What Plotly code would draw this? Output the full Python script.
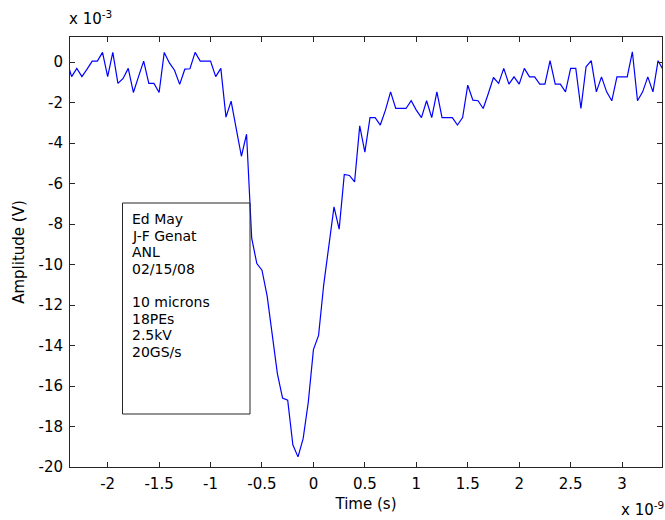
import plotly.graph_objects as go

# Oscilloscope trace: 20 GS/s sampling (0.05 ns per sample), amplitude in mV
T_START_NS = -2.40
DT_NS = 0.05
amplitude_mv = [
    0.10, -0.72, -0.31, -0.72, -0.35, 0.05, 0.05, 0.48, -0.72, 0.48,
    -1.05, -0.81, -0.31, -1.50, -0.72, 0.05, -1.05, -1.05, -1.50, 0.48,
    -0.04, -0.40, -1.10, -0.35, -0.33, 0.48, 0.05, 0.05, 0.05, -0.72,
    -0.31, -2.72, -1.93, -3.30, -4.65, -3.56, -8.70, -9.95, -10.28, -11.55,
    -13.40, -15.40, -16.60, -16.70, -18.90, -19.50, -18.60, -16.80, -14.20, -13.50,
    -11.00, -9.13, -7.15, -8.25, -5.55, -5.60, -5.92, -3.15, -4.45, -2.74,
    -2.74, -3.11, -2.37, -1.47, -2.29, -2.29, -2.29, -1.91, -2.37, -2.74,
    -1.91, -2.74, -1.47, -2.74, -2.74, -2.74, -3.11, -2.74, -1.14, -1.88,
    -1.91, -2.29, -1.55, -0.76, -1.05, -0.31, -1.09, -0.73, -1.09, -0.31,
    -0.73, -0.73, -1.09, -1.09, 0.07, -1.09, -1.09, -1.47, -0.31, -0.31,
    -2.29, -0.23, 0.07, -1.47, -0.73, -1.47, -1.91, -0.73, -0.73, -0.73,
    0.51, -1.91, -1.47, -0.73, -1.47, 0.07, -0.39,
]
time_ns = [round(T_START_NS + i * DT_NS, 3) for i in range(len(amplitude_mv))]

x_ticks = [-2, -1.5, -1, -0.5, 0, 0.5, 1, 1.5, 2, 2.5, 3]
x_tick_text = ["-2", "-1.5", "-1", "-0.5", "0", "0.5", "1", "1.5", "2", "2.5", "3"]
y_ticks = [0, -2, -4, -6, -8, -10, -12, -14, -16, -18, -20]
y_tick_text = [str(v) for v in y_ticks]

info_lines = ["Ed May", "J-F Genat", "ANL", "02/15/08", "",
              "10 microns", "18PEs", "2.5kV", "20GS/s"]

W, H = 665, 520
ML, MR, MT, MB = 70, 3, 37, 53
FONT = "DejaVu Sans, Verdana, sans-serif"
FS = 15
BOX_FS = 14
AX_COLOR = "#262626"


def px_x(px):
    return (px - ML) / (W - ML - MR)


def px_y(py):
    return (H - MB - py) / (H - MT - MB)


fig = go.Figure(
    go.Scatter(
        x=time_ns, y=amplitude_mv, mode="lines",
        line=dict(color="#0000ff", width=1.2),
        hoverinfo="skip", showlegend=False,
    )
)

axis_common = dict(
    showline=True, linecolor=AX_COLOR, linewidth=1, mirror="ticks",
    ticks="inside", ticklen=5, tickwidth=1, tickcolor=AX_COLOR,
    showgrid=False, zeroline=False, ticklabelstandoff=3,
    tickfont=dict(family=FONT, size=FS, color="#000000"),
)

fig.update_xaxes(
    range=[-2.366, 3.388], tickvals=x_ticks, ticktext=x_tick_text,
    title=dict(text="Time (s)", font=dict(family=FONT, size=FS, color="#000000"), standoff=6),
    **axis_common,
)
fig.update_yaxes(
    range=[-20, 1.24], tickvals=y_ticks, ticktext=y_tick_text,
    title=dict(text="Amplitude (V)", font=dict(family=FONT, size=FS, color="#000000"), standoff=10),
    **axis_common,
)

annotations = [
    dict(text="x 10<sup>-3</sup>", xref="paper", yref="paper",
         x=px_x(67), y=px_y(30), xanchor="left", yanchor="bottom",
         showarrow=False, font=dict(family=FONT, size=FS, color="#000000")),
    dict(text="x 10<sup>-9</sup>", xref="paper", yref="paper",
         x=px_x(666), y=px_y(521), xanchor="right", yanchor="bottom",
         showarrow=False, font=dict(family=FONT, size=FS, color="#000000")),
]

# Text box with run details, one annotation per line for tight line spacing
line_pitch = 16.6
for i, line in enumerate(info_lines):
    if not line:
        continue
    annotations.append(dict(
        text=line, xref="paper", yref="paper",
        x=px_x(131), y=px_y(219 + i * line_pitch),
        xanchor="left", yanchor="middle", showarrow=False, borderpad=0,
        font=dict(family=FONT, size=BOX_FS, color="#000000"),
    ))

fig.add_shape(type="rect", xref="paper", yref="paper",
              x0=px_x(122.5), x1=px_x(250), y0=px_y(414), y1=px_y(203),
              line=dict(color=AX_COLOR, width=1), fillcolor="rgba(0,0,0,0)")

fig.update_layout(
    width=W, height=H,
    margin=dict(l=ML, r=MR, t=MT, b=MB, pad=0),
    paper_bgcolor="#ffffff", plot_bgcolor="#ffffff",
    annotations=annotations,
    font=dict(family=FONT, size=FS, color="#000000"),
)

fig.write_html("out.html")
